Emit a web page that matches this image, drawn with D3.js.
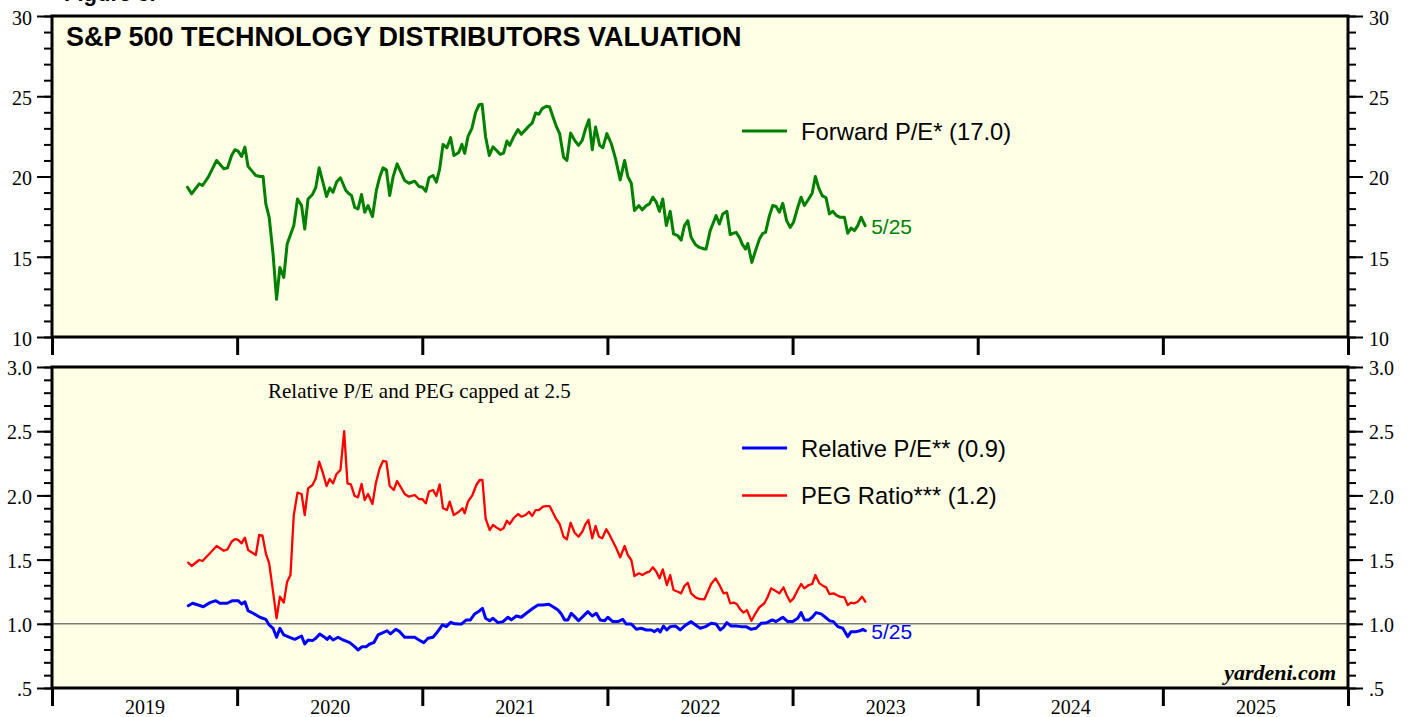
<!DOCTYPE html>
<html>
<head>
<meta charset="utf-8">
<script src="https://cdn.jsdelivr.net/npm/d3@7"></script>
<style>
  body { margin: 0; background: #ffffff; }
  svg { display: block; }
</style>
</head>
<body>
<svg id="chart" width="1413" height="717"></svg>
<script>
// ---------------- DATA (dates as decimal years) ----------------
const yearTicks = [2019, 2020, 2021, 2022, 2023, 2024, 2025, 2026];
const yearLabels = ["2019", "2020", "2021", "2022", "2023", "2024", "2025"];

const peTicks = [10, 15, 20, 25, 30];
const ratioTicks = [0.5, 1.0, 1.5, 2.0, 2.5, 3.0];
const ratioTickLabels = [".5", "1.0", "1.5", "2.0", "2.5", "3.0"];

const peDates = [2019.732,2019.754,2019.795,2019.813,2019.844,2019.889,2019.928,2019.948,2019.970,2019.988,
2020.005,2020.024,2020.042,2020.059,2020.101,2020.123,2020.140,2020.155,2020.173,2020.194,2020.213,2020.231,
2020.252,2020.270,2020.306,2020.326,2020.348,2020.365,2020.383,2020.407,2020.425,2020.443,2020.461,2020.483,
2020.500,2020.518,2020.537,2020.558,2020.587,2020.605,2020.618,2020.635,2020.653,2020.672,2020.689,2020.707,
2020.731,2020.752,2020.770,2020.788,2020.806,2020.824,2020.842,2020.864,2020.887,2020.905,2020.928,2020.959,
2020.982,2021.001,2021.019,2021.036,2021.058,2021.076,2021.094,2021.112,2021.133,2021.153,2021.171,2021.197,
2021.214,2021.229,2021.247,2021.268,2021.288,2021.307,2021.323,2021.342,2021.362,2021.382,2021.400,2021.421,
2021.439,2021.457,2021.472,2021.493,2021.517,2021.535,2021.558,2021.580,2021.594,2021.612,2021.630,2021.648,
2021.670,2021.688,2021.706,2021.724,2021.742,2021.763,2021.781,2021.801,2021.823,2021.844,2021.864,2021.882,
2021.900,2021.918,2021.936,2021.958,2021.975,2021.997,2022.021,2022.044,2022.069,2022.093,2022.110,2022.129,
2022.146,2022.170,2022.188,2022.210,2022.227,2022.245,2022.264,2022.281,2022.299,2022.318,2022.339,2022.357,
2022.380,2022.398,2022.416,2022.434,2022.452,2022.476,2022.497,2022.524,2022.533,2022.555,2022.573,2022.587,
2022.605,2022.623,2022.645,2022.663,2022.677,2022.695,2022.713,2022.728,2022.746,2022.758,2022.780,2022.800,
2022.821,2022.839,2022.854,2022.875,2022.893,2022.911,2022.929,2022.947,2022.968,2022.987,2023.005,2023.028,
2023.046,2023.064,2023.087,2023.106,2023.123,2023.141,2023.160,2023.181,2023.199,2023.217,2023.238,2023.257,
2023.280,2023.298,2023.316,2023.334,2023.352,2023.370,2023.392];
const peValues = [19.33,18.92,19.54,19.44,19.96,21.0,20.48,20.54,21.31,21.67,
21.58,21.25,21.83,20.63,20.06,20.0,20.0,18.29,17.46,15.17,12.35,14.33,
13.71,15.79,16.94,18.6,18.19,16.73,18.6,18.88,19.33,20.54,19.75,18.75,
19.29,19.02,19.65,19.92,19.13,18.92,18.81,18.08,17.98,18.88,17.77,18.19,
17.5,19.13,19.96,20.54,20.42,18.81,19.96,20.79,20.21,19.75,19.58,19.71,
19.38,19.33,19.08,19.92,20.06,19.65,20.48,22.0,21.79,22.42,21.31,21.5,
22.0,21.44,22.5,23.0,24.0,24.47,24.5,22.46,21.31,21.85,21.63,21.38,
21.46,22.21,21.94,22.46,22.92,22.63,22.92,23.19,23.33,23.96,23.88,24.23,
24.38,24.33,23.71,23.13,22.67,21.21,21.0,22.71,22.25,21.94,22.25,22.98,
23.54,21.67,23.08,21.94,21.79,22.67,22.04,21.1,19.79,21.0,20.0,19.58,
17.88,18.19,17.92,18.19,18.29,18.71,18.4,17.83,18.6,16.94,17.83,16.42,
16.31,16.04,16.94,17.25,16.21,15.75,15.58,15.48,15.48,16.63,17.15,17.56,
17.04,17.67,17.83,16.38,16.46,16.52,16.21,15.79,15.48,15.83,14.65,15.38,
16.1,16.46,16.52,17.56,18.19,18.13,17.77,18.33,17.25,16.83,17.15,18.08,
18.71,18.19,18.6,18.96,20.0,19.29,18.81,18.67,17.67,17.83,17.56,17.46,
17.46,16.46,16.79,16.63,16.94,17.46,16.94];

const relDates = [2019.736,2019.759,2019.790,2019.817,2019.853,2019.885,2019.907,2019.946,2019.975,
2020.005,2020.024,2020.042,2020.059,2020.086,2020.123,2020.155,2020.173,2020.194,2020.213,2020.231,2020.252,
2020.284,2020.311,2020.348,2020.365,2020.383,2020.407,2020.425,2020.446,2020.468,2020.486,2020.500,2020.518,
2020.545,2020.572,2020.608,2020.635,2020.653,2020.675,2020.698,2020.716,2020.738,2020.761,2020.788,2020.810,
2020.828,2020.857,2020.878,2020.905,2020.932,2020.959,2020.982,2021.008,2021.031,2021.058,2021.076,2021.109,
2021.130,2021.153,2021.175,2021.198,2021.211,2021.238,2021.260,2021.283,2021.310,2021.325,2021.342,2021.364,
2021.382,2021.409,2021.436,2021.463,2021.481,2021.508,2021.535,2021.562,2021.598,2021.625,2021.652,2021.684,
2021.706,2021.733,2021.751,2021.769,2021.787,2021.805,2021.823,2021.844,2021.867,2021.894,2021.918,2021.940,
2021.961,2021.985,2022.002,2022.029,2022.056,2022.083,2022.102,2022.129,2022.156,2022.183,2022.210,2022.237,
2022.254,2022.272,2022.285,2022.303,2022.321,2022.339,2022.368,2022.393,2022.416,2022.452,2022.476,2022.501,
2022.530,2022.560,2022.587,2022.609,2022.627,2022.645,2022.668,2022.695,2022.722,2022.749,2022.776,2022.803,
2022.830,2022.861,2022.890,2022.911,2022.947,2022.974,2023.001,2023.028,2023.046,2023.064,2023.087,2023.106,
2023.127,2023.154,2023.177,2023.199,2023.221,2023.244,2023.271,2023.298,2023.316,2023.343,2023.365,2023.379,
2023.393];
const relValues = [1.141,1.160,1.146,1.133,1.165,1.180,1.160,1.160,1.180,
1.180,1.154,1.172,1.102,1.082,1.051,1.035,0.991,0.965,0.895,0.965,0.913,
0.895,0.879,0.905,0.843,0.874,0.869,0.887,0.921,0.900,0.879,0.900,0.874,
0.895,0.874,0.853,0.822,0.796,0.822,0.822,0.843,0.853,0.913,0.931,0.946,
0.921,0.957,0.939,0.895,0.895,0.895,0.874,0.853,0.887,0.895,0.926,0.991,
0.978,1.012,1.000,0.998,0.998,1.030,1.030,1.077,1.102,1.121,1.043,1.024,
1.043,1.009,1.017,1.051,1.030,1.061,1.051,1.082,1.121,1.146,1.146,1.152,
1.133,1.107,1.077,1.030,1.030,1.082,1.056,1.024,1.056,1.095,1.061,1.082,
1.030,1.024,1.051,1.017,1.017,1.035,0.998,0.998,0.957,0.965,0.952,0.952,
0.939,0.957,0.936,0.982,0.952,0.978,0.982,0.952,0.982,1.017,0.991,0.965,
0.978,1.004,0.998,0.952,0.972,1.009,0.982,0.982,0.978,0.978,0.957,0.965,
1.004,1.009,1.030,1.017,1.051,1.017,1.017,1.043,1.087,1.030,1.030,1.051,
1.087,1.077,1.051,1.024,1.017,0.978,0.965,0.900,0.939,0.939,0.946,0.957,
0.946];

const pegDates = [2019.736,2019.754,2019.795,2019.813,2019.844,2019.889,2019.928,2019.948,2019.970,2019.988,
2020.005,2020.024,2020.042,2020.059,2020.101,2020.119,2020.137,2020.155,2020.173,2020.194,2020.213,2020.231,
2020.252,2020.270,2020.288,2020.306,2020.326,2020.348,2020.365,2020.383,2020.407,2020.425,2020.443,2020.461,
2020.483,2020.500,2020.518,2020.537,2020.558,2020.578,2020.596,2020.614,2020.635,2020.653,2020.672,2020.689,
2020.707,2020.731,2020.749,2020.770,2020.788,2020.806,2020.824,2020.846,2020.864,2020.882,2020.905,2020.928,
2020.959,2020.982,2021.001,2021.019,2021.036,2021.058,2021.076,2021.094,2021.112,2021.133,2021.148,2021.170,
2021.198,2021.217,2021.229,2021.247,2021.271,2021.292,2021.310,2021.325,2021.342,2021.364,2021.382,2021.400,
2021.422,2021.439,2021.457,2021.472,2021.493,2021.517,2021.535,2021.558,2021.576,2021.594,2021.612,2021.630,
2021.652,2021.670,2021.688,2021.706,2021.724,2021.742,2021.763,2021.781,2021.801,2021.823,2021.844,2021.864,
2021.882,2021.897,2021.918,2021.936,2021.954,2021.972,2021.994,2022.012,2022.033,2022.048,2022.069,2022.093,
2022.110,2022.129,2022.146,2022.170,2022.188,2022.210,2022.227,2022.245,2022.264,2022.281,2022.299,2022.321,
2022.339,2022.357,2022.380,2022.398,2022.416,2022.434,2022.452,2022.476,2022.497,2022.524,2022.542,2022.560,
2022.584,2022.605,2022.627,2022.645,2022.663,2022.681,2022.699,2022.717,2022.735,2022.753,2022.778,2022.800,
2022.821,2022.848,2022.866,2022.884,2022.907,2022.929,2022.951,2022.968,2022.987,2023.005,2023.028,2023.046,
2023.064,2023.087,2023.106,2023.123,2023.145,2023.163,2023.181,2023.199,2023.221,2023.238,2023.257,2023.280,
2023.298,2023.316,2023.334,2023.352,2023.375,2023.393];
const pegValues = [1.476,1.450,1.497,1.489,1.536,1.606,1.569,1.580,1.639,1.660,
1.653,1.627,1.671,1.575,1.536,1.692,1.686,1.549,1.471,1.250,1.043,1.211,
1.165,1.328,1.380,1.847,2.021,2.011,1.847,2.055,2.081,2.133,2.263,2.185,
2.073,2.128,2.094,2.167,2.198,2.500,2.094,2.086,1.995,1.985,2.089,1.964,
2.011,1.933,2.094,2.211,2.268,2.263,2.073,2.042,2.112,2.068,2.011,1.990,
2.003,1.972,1.970,1.938,2.029,2.042,1.995,2.086,1.900,1.886,1.951,1.847,
1.873,1.900,1.861,1.951,2.003,2.081,2.120,2.120,1.822,1.730,1.769,1.751,
1.730,1.744,1.803,1.777,1.822,1.855,1.834,1.847,1.873,1.840,1.886,1.886,
1.912,1.917,1.917,1.865,1.814,1.777,1.678,1.658,1.787,1.709,1.678,1.717,
1.777,1.808,1.666,1.762,1.678,1.666,1.736,1.692,1.632,1.588,1.518,1.606,
1.536,1.497,1.372,1.393,1.380,1.398,1.406,1.440,1.406,1.354,1.424,1.302,
1.380,1.263,1.250,1.237,1.294,1.320,1.237,1.206,1.193,1.191,1.250,1.310,
1.354,1.302,1.237,1.242,1.160,1.165,1.154,1.113,1.087,1.107,1.024,1.082,
1.129,1.160,1.211,1.276,1.258,1.237,1.284,1.224,1.172,1.198,1.263,1.310,
1.276,1.302,1.310,1.380,1.315,1.297,1.284,1.232,1.237,1.224,1.211,1.206,
1.146,1.165,1.160,1.172,1.211,1.172];

const endLabel = "5/25";
const titleText = "S&P 500 TECHNOLOGY DISTRIBUTORS VALUATION";
const peLegend = "Forward P/E* (17.0)";
const relLegend = "Relative P/E** (0.9)";
const pegLegend = "PEG Ratio*** (1.2)";
const noteText = "Relative P/E and PEG capped at 2.5";

// ---------------- LAYOUT ----------------
const svg = d3.select("#chart");
const L = 52, R = 1348;
const top1 = 16, bot1 = 337, top2 = 367, bot2 = 688;
const panelFill = "#ffffe5";
const serif = "'Liberation Serif', 'Times New Roman', serif";
const sans = "'Liberation Sans', Arial, sans-serif";

const x = d3.scaleLinear().domain([2019, 2026]).range([L, R]);
const y1 = d3.scaleLinear().domain([10, 30]).range([bot1, top1]);
const y2 = d3.scaleLinear().domain([0.5, 3.0]).range([bot2, top2]);

// figure caption, cut off at the top edge as in the original
svg.append("text").attr("x", 64).attr("y", 1)
  .style("font-family", sans).style("font-weight", "bold").style("font-size", "22px")
  .text("Figure 3.");

// panels
[[top1, bot1], [top2, bot2]].forEach(([t, b]) => {
  svg.append("rect").attr("x", L).attr("y", t).attr("width", R - L).attr("height", b - t)
    .attr("fill", panelFill);
});

function styleAxis(g, sw) {
  g.select(".domain").remove();
  g.selectAll(".tick line").attr("stroke", "#000").attr("stroke-width", sw);
  g.selectAll(".tick text").style("font-family", serif).style("font-size", "20px").attr("fill", "#000");
}

// Y axes top panel
const minorTop = d3.range(10, 31, 1);
svg.append("g").attr("transform", `translate(${L},0)`)
  .call(d3.axisLeft(y1).tickValues(minorTop).tickSize(8).tickFormat(""))
  .call(g => styleAxis(g, 2));
svg.append("g").attr("transform", `translate(${L},0)`)
  .call(d3.axisLeft(y1).tickValues(peTicks).tickSize(15).tickPadding(5).tickFormat(d3.format("d")))
  .call(g => styleAxis(g, 2)).call(g => g.selectAll(".tick text").attr("dy", "0.42em"));
svg.append("g").attr("transform", `translate(${R},0)`)
  .call(d3.axisRight(y1).tickValues(minorTop).tickSize(8).tickFormat(""))
  .call(g => styleAxis(g, 2));
svg.append("g").attr("transform", `translate(${R},0)`)
  .call(d3.axisRight(y1).tickValues(peTicks).tickSize(15).tickPadding(6).tickFormat(d3.format("d")))
  .call(g => styleAxis(g, 2)).call(g => g.selectAll(".tick text").attr("dy", "0.42em"));

// Y axes bottom panel
const minorBot = d3.range(5, 31, 1).map(v => v / 10);
const fmtRatio = d => ratioTickLabels[ratioTicks.indexOf(d)];
svg.append("g").attr("transform", `translate(${L},0)`)
  .call(d3.axisLeft(y2).tickValues(minorBot).tickSize(8).tickFormat(""))
  .call(g => styleAxis(g, 2));
svg.append("g").attr("transform", `translate(${L},0)`)
  .call(d3.axisLeft(y2).tickValues(ratioTicks).tickSize(15).tickPadding(5).tickFormat(fmtRatio))
  .call(g => styleAxis(g, 2)).call(g => g.selectAll(".tick text").attr("dy", "0.38em"));
svg.append("g").attr("transform", `translate(${R},0)`)
  .call(d3.axisRight(y2).tickValues(minorBot).tickSize(8).tickFormat(""))
  .call(g => styleAxis(g, 2));
svg.append("g").attr("transform", `translate(${R},0)`)
  .call(d3.axisRight(y2).tickValues(ratioTicks).tickSize(15).tickPadding(6).tickFormat(fmtRatio))
  .call(g => styleAxis(g, 2)).call(g => g.selectAll(".tick text").attr("dy", "0.38em"));

// X axes (year boundaries)
[bot1, bot2].forEach(b => {
  svg.append("g").attr("transform", `translate(0,${b})`)
    .call(d3.axisBottom(x).tickValues(yearTicks).tickSize(18).tickFormat(""))
    .call(g => styleAxis(g, 3));
});
const midYears = yearLabels.map(s => +s + 0.5);
svg.append("g").attr("transform", `translate(0,${bot2})`)
  .call(d3.axisBottom(x).tickValues(midYears).tickSize(0).tickPadding(12)
    .tickFormat((d, i) => yearLabels[i]))
  .call(g => styleAxis(g, 0));

// reference line at 1.0
svg.append("line").attr("x1", L).attr("x2", R).attr("y1", y2(1)).attr("y2", y2(1))
  .attr("stroke", "#7a7a7a").attr("stroke-width", 1.5);

// lines
function drawLine(dates, values, yScale, color, width) {
  const data = dates.map((d, i) => [d, values[i]]);
  svg.append("path").datum(data)
    .attr("fill", "none").attr("stroke", color).attr("stroke-width", width)
    .attr("stroke-linejoin", "round").attr("stroke-linecap", "round")
    .attr("d", d3.line().x(d => x(d[0])).y(d => yScale(d[1])));
}
drawLine(peDates, peValues, y1, "#008000", 3);
drawLine(pegDates, pegValues, y2, "#ff0000", 2.3);
drawLine(relDates, relValues, y2, "#0000ff", 3);

// panel frames
[[top1, bot1], [top2, bot2]].forEach(([t, b]) => {
  svg.append("rect").attr("x", L).attr("y", t).attr("width", R - L).attr("height", b - t)
    .attr("fill", "none").attr("stroke", "#000").attr("stroke-width", 3);
});

// title
svg.append("text").attr("x", 66).attr("y", 46)
  .style("font-family", sans).style("font-weight", "bold").style("font-size", "27px")
  .text(titleText);

// legends
function legendItem(ly, color, width, label) {
  svg.append("line").attr("x1", 742).attr("x2", 787).attr("y1", ly).attr("y2", ly)
    .attr("stroke", color).attr("stroke-width", width);
  svg.append("text").attr("x", 801).attr("y", ly + 8.5)
    .style("font-family", sans).style("font-size", "23.8px").attr("fill", "#000")
    .text(label);
}
legendItem(131, "#008000", 3, peLegend);
legendItem(448, "#0000ff", 3, relLegend);
legendItem(495.5, "#ff0000", 2.3, pegLegend);

// note
svg.append("text").attr("x", 268).attr("y", 398)
  .style("font-family", serif).style("font-size", "21px").attr("fill", "#000")
  .text(noteText);

// end labels
const lastPe = peValues[peValues.length - 1];
const lastPeD = peDates[peDates.length - 1];
svg.append("text").attr("x", x(lastPeD) + 6).attr("y", y1(lastPe) + 8)
  .style("font-family", sans).style("font-size", "21px").attr("fill", "#008000").text(endLabel);
const lastRel = relValues[relValues.length - 1];
const lastRelD = relDates[relDates.length - 1];
svg.append("text").attr("x", x(lastRelD) + 6).attr("y", y2(lastRel) + 8)
  .style("font-family", sans).style("font-size", "21px").attr("fill", "#0000ff").text(endLabel);

// source
svg.append("text").attr("x", 1336).attr("y", 680).attr("text-anchor", "end")
  .style("font-family", serif).style("font-weight", "bold").style("font-style", "italic")
  .style("font-size", "22px").attr("fill", "#000").text("yardeni.com");
</script>
</body>
</html>
